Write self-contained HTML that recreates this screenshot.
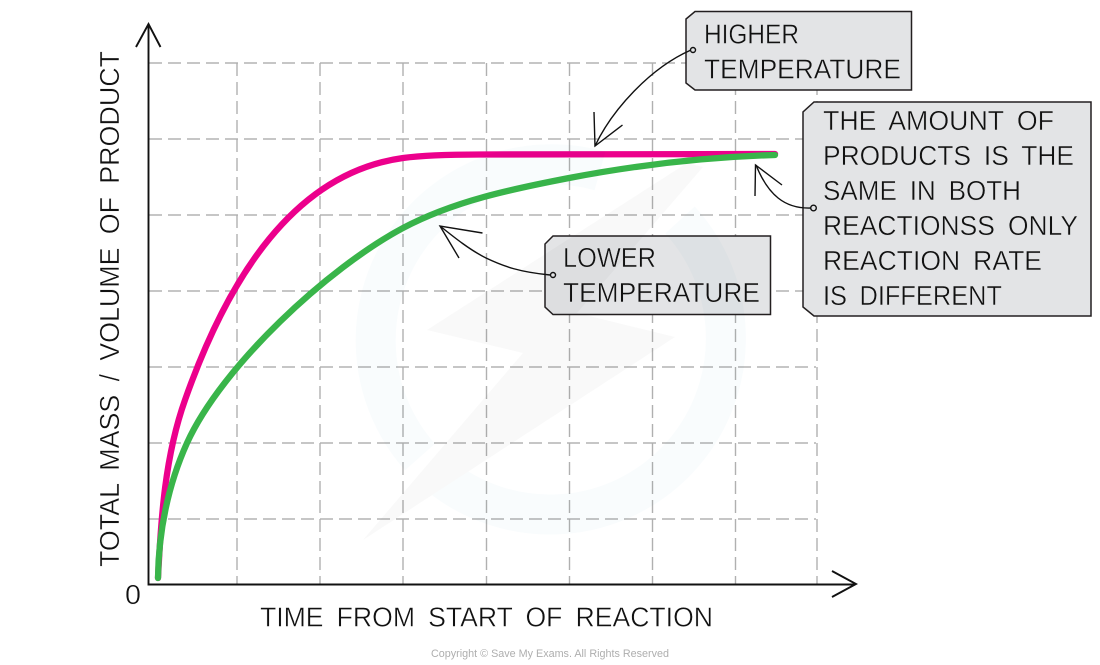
<!DOCTYPE html>
<html>
<head>
<meta charset="utf-8">
<style>
html,body{margin:0;padding:0;background:#fff;}
svg{display:block;}
text{font-family:"Liberation Sans",sans-serif;fill:#111;}
.b text{font-size:28px;stroke:#e3e4e6;stroke-width:.45px;word-spacing:6px;}
.a text{font-size:28px;stroke:#fff;stroke-width:.45px;word-spacing:6px;}
</style>
</head>
<body>
<svg width="1100" height="665" viewBox="0 0 1100 665" xmlns="http://www.w3.org/2000/svg">
<rect width="1100" height="665" fill="#fff"/>
<!-- grid -->
<g fill="none" stroke="#8c8c8c" stroke-width="1.100" stroke-dasharray="13 6">
<path d="M149 63H816M149 139H816M149 215H816M149 291H816M149 367H816M149 443H816M149 519H816"/>
</g>
<g fill="none" stroke="#b0b0b0" stroke-width="1.400" stroke-dasharray="13 6">
<path d="M237 63V584M320 63V584M403 63V584M486.500 63V584M569.500 63V584M652.500 63V584M735.500 63V584M817 63V584"/>
</g>
<!-- axes -->
<g fill="none" stroke="#111" stroke-width="1.900" stroke-linejoin="miter">
<path d="M148.500 24V584.500H855"/>
<path d="M136 47L148.500 24L160.500 47"/>
<path d="M832 571L856 584L832 597"/>
</g>
<!-- curves -->
<path fill="none" stroke="#ec008c" stroke-width="6.300" stroke-linecap="round" d="M158 578C161 518 165 456 185 400C228 278 294 173 403 158C425 155 450 154.500 480 154.500L775 154"/>
<path fill="none" stroke="#39b54a" stroke-width="6.300" stroke-linecap="round" d="M158 578C158.500 532 168 485 187 443C222 366 328 268 403 228C454 201 512 189 569 178C637 165 706 157 775 155"/>
<!-- boxes -->
<g fill="#e3e4e6" stroke="#231f20" stroke-width="1.500">
<polygon points="695,11.500 911.500,11.500 911.500,90 695,90 686,83 686,19"/>
<polygon points="553,236 770.500,236 770.500,314.500 553,314.500 545,307 545,244"/>
<polygon points="814,102 1091,102 1091,316 814,316 803,307 803,112"/>
</g>
<!-- watermark -->
<g style="mix-blend-mode:multiply">
<g fill="none" stroke="#f9fcfd" stroke-width="40">
<path d="M600 171A176 176 0 0 0 420 457"/>
<path d="M440 476A176 176 0 0 0 680 220"/>
</g>
<polygon fill="#f9f9f9" points="687,163 427,330 523,353 363,540 675,337 577,313 703,167"/>
</g>
<!-- connectors -->
<g fill="none" stroke="#111" stroke-width="1.400">
<path d="M691 50C650 68 612 110 595 146"/>
<path d="M594 112L595 146L622.500 125"/>
<circle cx="693" cy="50" r="2.500" fill="#e3e4e6"/>
<path d="M811 208C785 209 768 195 756 165"/>
<path d="M755 196L755.500 165L782 185"/>
<circle cx="813.500" cy="208" r="2.800" fill="#e3e4e6"/>
<path d="M550 275C520 272 505 267 486 258C470 250 455 238 440 226"/>
<path d="M482.500 233L440 226L459 258"/>
<circle cx="553" cy="275" r="2.500" fill="#e3e4e6"/>
</g>
<!-- box text -->
<g class="b">
<text x="704" y="43.500" textLength="95" lengthAdjust="spacingAndGlyphs">HIGHER</text>
<text x="704" y="78.500" textLength="197" lengthAdjust="spacingAndGlyphs">TEMPERATURE</text>
<text x="563" y="267" textLength="93" lengthAdjust="spacingAndGlyphs">LOWER</text>
<text x="563" y="302" textLength="197" lengthAdjust="spacingAndGlyphs">TEMPERATURE</text>
<text x="823" y="130" textLength="231" lengthAdjust="spacingAndGlyphs">THE AMOUNT OF</text>
<text x="823" y="165" textLength="251" lengthAdjust="spacingAndGlyphs">PRODUCTS IS THE</text>
<text x="823" y="200" textLength="198" lengthAdjust="spacingAndGlyphs">SAME IN BOTH</text>
<text x="823" y="235" textLength="255" lengthAdjust="spacingAndGlyphs">REACTIONSS ONLY</text>
<text x="823" y="270" textLength="219" lengthAdjust="spacingAndGlyphs">REACTION RATE</text>
<text x="823" y="305" textLength="179" lengthAdjust="spacingAndGlyphs">IS DIFFERENT</text>
</g>
<!-- axis text -->
<g class="a">
<text x="260" y="626.500" textLength="453" lengthAdjust="spacingAndGlyphs">TIME FROM START OF REACTION</text>
<text x="125" y="604" textLength="16" lengthAdjust="spacingAndGlyphs">0</text>
<text transform="translate(119 567) rotate(-90)" x="0" y="0" textLength="516" lengthAdjust="spacingAndGlyphs">TOTAL MASS / VOLUME OF PRODUCT</text>
</g>
<text x="431" y="657" font-size="11" textLength="238" lengthAdjust="spacingAndGlyphs" style="fill:#aeaeae">Copyright © Save My Exams. All Rights Reserved</text>
</svg>
</body>
</html>
